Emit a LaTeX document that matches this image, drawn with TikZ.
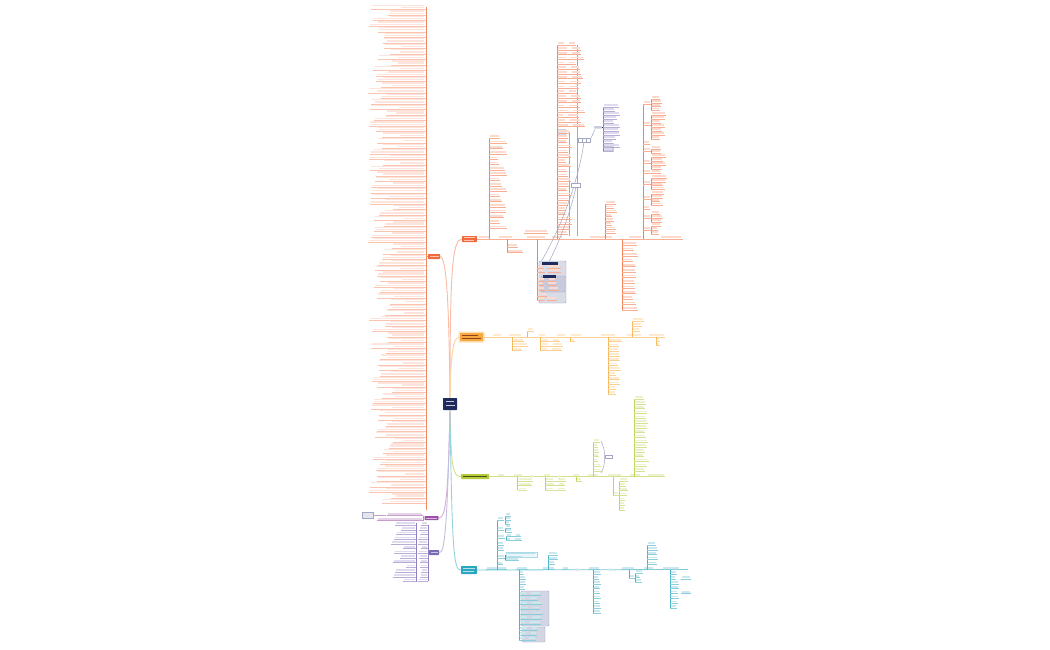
\documentclass[tikz,border=0pt]{standalone}
\usetikzlibrary{calc}
\definecolor{oA}{HTML}{F26B3A}
\definecolor{oB}{HTML}{F7A93E}
\definecolor{gC}{HTML}{B5CB3A}
\definecolor{tD}{HTML}{2AA6C1}
\definecolor{puA}{HTML}{9B4FA6}
\definecolor{puB}{HTML}{7D6AB6}
\definecolor{navy}{HTML}{1F2A5E}
\definecolor{gbox}{HTML}{C8CBDC}
\definecolor{gline}{HTML}{A3A7C4}
\tikzset{
 mainbox/.style={draw=none, inner sep=0pt, rectangle, rounded corners=0.6pt},
 conn/.style={line width=0.9pt},
}
% leaf, left aligned at x: x y w colour
\newcommand\lf[4]{%
  \fill[#4!25] ({#1+1},{#2-2.6}) rectangle ({#1+1+#3},{#2-1});
  \draw[#4!55,line width=0.35pt] (#1,#2) -- ({#1+#3+2},#2);
}
% leaf, right aligned at x
\newcommand\rf[4]{%
  \fill[#4!25] ({#1-1-#3},{#2-2.6}) rectangle ({#1-1},{#2-1});
  \draw[#4!55,line width=0.35pt] ({#1-#3-2},#2) -- (#1,#2);
}
% vertical list: x, first y, count, step, junction y, colour, max width
\newcommand\vt[7]{%
  \pgfmathsetmacro\vlast{#2+(#3-1)*#4}
  \draw[#6!85,line width=0.6pt] (#1,#5) -- (#1,#2) (#1,#5) -- (#1,\vlast);
  \foreach \i in {1,...,#3}{
    \pgfmathsetmacro\yy{#2+(\i-1)*#4}
    \pgfmathsetmacro\ww{#7*(0.45+0.55*rnd)}
    \lf{#1}{\yy}{\ww}{#6}
  }
}
% vertical list of pairs
\newcommand\vtp[7]{%
  \pgfmathsetmacro\vlast{#2+(#3-1)*#4}
  \draw[#6!85,line width=0.6pt] (#1,#5) -- (#1,#2) (#1,#5) -- (#1,\vlast);
  \foreach \i in {1,...,#3}{
    \pgfmathsetmacro\yy{#2+(\i-1)*#4}
    \pgfmathsetmacro\wa{#7*(0.5+0.5*rnd)}
    \pgfmathsetmacro\wb{#7*(0.6+0.6*rnd)}
    \pgfmathsetmacro\xb{#1+\wa+5}
    \lf{#1}{\yy}{\wa}{#6}
    \draw[#6!55,line width=0.35pt] ({#1+\wa+2},\yy) -- (\xb,\yy);
    \lf{\xb}{\yy}{\wb}{#6}
  }
}
\begin{document}
\begin{tikzpicture}[x=1pt,y=-1pt]
\useasboundingbox (0,0) rectangle (1050,650);
\fill[white] (0,0) rectangle (1050,650);
\pgfmathsetseed{7}

% ---------- main nodes ----------
\fill[oB!35,rounded corners=1pt] (458.5,331.5) rectangle (484.5,342.5);
\node[mainbox,fill=navy,minimum width=14pt,minimum height=12pt] (c) at (450,404) {};
\node[mainbox,fill=oA,minimum width=15pt,minimum height=6pt] (A) at (469.5,239) {};
\node[mainbox,fill=oB,minimum width=23pt,minimum height=8pt] (B) at (471.5,337) {};
\node[mainbox,fill=gC,minimum width=28pt,minimum height=5pt] (C) at (475,476.5) {};
\node[mainbox,fill=tD,minimum width=16pt,minimum height=8pt] (D) at (469,570) {};
\node[mainbox,fill=oA,minimum width=12pt,minimum height=5pt] (L) at (434,256.5) {};
\node[mainbox,fill=puA,minimum width=14pt,minimum height=4pt] (P1) at (431.5,518) {};
\node[mainbox,fill=puB,minimum width=10pt,minimum height=5pt] (P2) at (434,552.5) {};
% white text marks inside main nodes
\fill[white!75!navy] (446,400.5) rectangle (454,401.8);
\fill[white!75!navy] (445.5,404.5) rectangle (454.5,405.8);
\fill[white!60!oA] (464,237.2) rectangle (475,238);
\fill[white!60!oA] (464,239.8) rectangle (474,240.6);
\fill[oA!60!black] (462,334.5) rectangle (478,335.3);
\fill[oA!60!black] (462,337.5) rectangle (481,338.3);
\fill[gC!40!black] (463,476) rectangle (487,477);
\fill[white!65!tD] (463,567.5) rectangle (475,568.5);
\fill[white!65!tD] (463,570.5) rectangle (474,571.5);
\fill[white!60!oA] (429.5,256) rectangle (438.5,257);
\fill[white!60!puA] (426,517.5) rectangle (437,518.5);
\fill[white!60!puB] (430.5,552) rectangle (437.5,553);

% ---------- connectors from centre ----------
\draw[oA!45,conn] (c.north) .. controls (450,275) and (452,239) .. (A.west);
\draw[oA!45,conn] (c.north) .. controls (449,310) and (447,257) .. (L.east);
\draw[oB!50,conn] (c.north) .. controls (451,352) and (453,337) .. (B.west);
\draw[gC!60,conn] (c.south) .. controls (451,468) and (453,476.5) .. (C.west);
\draw[tD!50,conn] (c.south) .. controls (452,555) and (454,570) .. (D.west);
\draw[puA!45,conn] (c.south) .. controls (448,505) and (445,518) .. (P1.east);
\draw[puB!45,conn] (c.south) .. controls (447,540) and (444,552.5) .. (P2.east);

% ---------- left column ----------
\coordinate (Lc) at (426,256.5);
\draw[oA!80,line width=0.8pt] (L.west) -- (Lc);
\draw[oA!80,line width=1pt] (426,7) -- (426,510);
\foreach \i in {0,...,89}{
  \pgfmathsetmacro\yy{9.5+\i*5.55}
  \pgfmathsetmacro\wa{30+25*rnd}
  \pgfmathsetmacro\wb{18+37*rnd}
  \pgfmathsetmacro\wm{max(\wa,\wb)}
  \fill[oA!18] ({424-\wa},{\yy-4.7}) rectangle (424,{\yy-3.4});
  \fill[oA!18] ({424-\wb},{\yy-2.5}) rectangle (424,{\yy-1.2});
  \draw[oA!40,line width=0.3pt] ({423-\wm},\yy) -- (426,\yy);
}

% ---------- purple left branches ----------
\coordinate (P1a) at (423,518);
\draw[puA!70,line width=0.6pt] (P1.west) -- (P1a);
\draw[puA!70,line width=0.6pt] (423,515.5) -- (423,520.5);
\rf{423}{515.5}{34}{puA}
\draw[gline,fill=gbox!50] (362,512) rectangle (373,518);
\draw[puA!55,line width=0.35pt] (373,515.5) -- (386,515.5);
\rf{423}{520.5}{44}{puA}

\coordinate (P2a) at (428,552.5);
\draw[puB,line width=0.6pt] (P2.west) -- (P2a);
\draw[puB!85,line width=0.6pt] (428,525) -- (428,581);
\draw[puB!85,line width=0.6pt] (416,523) -- (416,582);
\foreach \i in {0,...,12}{
  \pgfmathsetmacro\yy{525+\i*4.7}
  \pgfmathsetmacro\wa{5+4*rnd}
  \pgfmathsetmacro\wb{6+18*rnd}
  \rf{428}{\yy}{\wa}{puB}
  \rf{416}{\yy}{\wb}{puB}
}

% ---------- branch A ----------
\draw[oA!55,line width=0.8pt] (A.east) -- (683,239);
\lf{478}{239}{10}{oA} \lf{498}{239}{13}{oA} \lf{526}{239}{18}{oA}
\lf{551}{239}{10}{oA} \lf{589}{239}{22}{oA} \lf{628}{239}{12}{oA} \lf{660}{239}{20}{oA}
\lf{524}{233}{22}{oA}
\vt{489}{138}{18}{5.3}{239}{oA}{16}
\vt{507}{247}{2}{5.5}{239}{oA}{15}
% long column
\draw[gline,line width=0.5pt] (577,45) -- (577,236);
\draw[gline,line width=0.5pt] (569,132) -- (569,236);
\vtp{557}{45}{18}{4.8}{239}{oA}{10}
\draw[gline,fill=gbox!60,rounded corners=0.5pt] (558,129.5) rectangle (566,134.5);
\vt{557}{133}{22}{4.8}{239}{oA}{14}
% grey relation curves
\draw[gline,line width=0.5pt] (541,262) .. controls (568,215) and (580,170) .. (584,142);
\draw[gline,line width=0.5pt] (549,262) .. controls (564,232) and (572,205) .. (576,187);
\draw[gline,line width=0.5pt] (590,140) .. controls (592,134) .. (595,129.5);
\draw[gline,fill=white] (578,138) rectangle (590,142.5);
\draw[gline] (582,138) -- (582,142.5) (586,138) -- (586,142.5);
\draw[gline,fill=white] (571,183) rectangle (580,187);
% purple/navy cluster
\node[mainbox,fill=gbox,minimum width=8pt,minimum height=2.5pt] (Pc) at (598,127.5) {};
\fill[gbox] (604,143) rectangle (614,152.5);
\draw[navy,line width=0.6pt] (Pc.east) -- (603,127.5);
\vt{603}{107}{12}{4}{127.5}{puB}{16}
% A4
\vt{605}{204}{8}{4.2}{239}{oA}{10}
% A5
\draw[oA!85,line width=0.6pt] (643,239) -- (643,104);
\lf{643}{104}{6}{oA} \vt{651}{99}{4}{3.8}{104}{oA}{14}
\lf{643}{125}{6}{oA} \vt{651}{115}{7}{4}{125}{oA}{14}
\lf{643}{144}{5}{oA}
\lf{643}{151}{6}{oA} \vt{651}{149}{2}{4}{151}{oA}{14}
\lf{643}{163}{6}{oA} \vt{651}{157}{4}{4}{163}{oA}{14}
\lf{643}{173}{6}{oA} \lf{651}{173}{8}{oA}
\lf{643}{184}{6}{oA} \vt{651}{178}{4}{3.8}{184}{oA}{14}
\lf{643}{199}{6}{oA} \vt{651}{194}{4}{3.8}{199}{oA}{12}
\lf{643}{209}{5}{oA}
\lf{643}{218}{6}{oA} \vt{651}{214}{3}{4}{218}{oA}{12}
\lf{643}{230}{6}{oA} \vt{651}{226}{3}{4}{230}{oA}{10}
% A6
\vt{622}{245}{13}{5.4}{239}{oA}{14}
% grey box under A
\draw[oA!85,line width=0.6pt] (537,239) -- (537,300);
\draw[gline,fill=gbox!70,rounded corners=1pt] (539,261) rectangle (566,303);
\fill[navy] (542,262) rectangle (558,265);
\draw[gline,fill=gbox,rounded corners=1pt] (541,276) rectangle (565,292);
\fill[navy] (543,275) rectangle (556,278);
\foreach \yy/\wa/\wb in {268/5/12,272/6/11,281/6/6,285/5/8,290/6/9}{
  \lf{537}{\yy}{\wa}{oA}
  \lf{\wa+542}{\yy}{\wb}{oA}
}
\lf{537}{296}{8}{oA}
\lf{537}{300}{6}{oA} \lf{547}{300}{8}{oA}

% ---------- branch B ----------
\draw[oB!55,line width=0.8pt] (B.east) -- (663,337);
\lf{492}{337}{8}{oB} \lf{508}{337}{12}{oB} \lf{538}{337}{6}{oB} \lf{556}{337}{8}{oB}
\lf{570}{337}{10}{oB} \lf{600}{337}{14}{oB} \lf{626}{337}{14}{oB} \lf{648}{337}{15}{oB}
\vt{512.5}{341.5}{3}{4.5}{337}{oB}{14}
\vt{527}{331}{1}{5}{337}{oB}{8}
\vtp{540.5}{341.5}{3}{4.5}{337}{oB}{9}
\vt{570}{341.5}{1}{4}{337}{oB}{4}
\vt{608}{341.5}{12}{4.75}{337}{oB}{12}
\vt{632}{321}{3}{5}{337}{oB}{12}
\vt{656}{341}{2}{4.5}{337}{oB}{4}

% ---------- branch C ----------
\draw[gC!60,line width=0.8pt] (C.east) -- (663,476.5);
\lf{497}{476.5}{6}{gC} \lf{513}{476.5}{8}{gC} \lf{543}{476.5}{6}{gC}
\lf{572}{476.5}{6}{gC} \lf{587}{476.5}{10}{gC} \lf{607}{476.5}{13}{gC}
\lf{629}{476.5}{10}{gC} \lf{647}{476.5}{16}{gC}
\fill[gC!30] (532,476.5) circle (1.5);
\fill[gC!30] (559,476.5) circle (1.5);
\vt{517.5}{481}{3}{4.6}{476.5}{gC}{14}
\vtp{545}{481}{3}{4.6}{476.5}{gC}{8}
\vt{576}{481}{1}{4}{476.5}{gC}{5}
\vt{593}{442}{7}{4.85}{476.5}{gC}{6}
\draw[gline,line width=0.5pt] (601,441) .. controls (606,450) and (606,465) .. (601,473);
\draw[gline,fill=white] (605,455) rectangle (612,458.5);
\draw[gC!85,line width=0.6pt] (613,476.5) -- (613,495);
\lf{613}{495}{4}{gC}
\vt{619}{481}{7}{4.8}{495}{gC}{8}
\vt{634}{399}{16}{4.8}{476.5}{gC}{16}

% ---------- branch D ----------
\draw[tD!60,line width=0.8pt] (D.east) -- (688,569.5);
\lf{486}{569.5}{19}{tD} \lf{516}{569.5}{10}{tD} \lf{542}{569.5}{11}{tD}
\lf{562}{569.5}{5}{tD} \lf{588}{569.5}{10}{tD} \lf{621}{569.5}{12}{tD}
\lf{643}{569.5}{9}{tD} \lf{662}{569.5}{16}{tD}
\fill[tD!25] (577,569.5) circle (1.5);
\fill[tD!25] (610,569.5) circle (1.5);
% D1
\draw[tD!85,line width=0.6pt] (497,569.5) -- (497,520);
\lf{497}{520}{5}{tD} \vt{505}{516}{3}{4}{520}{tD}{6}
\lf{497}{530}{5}{tD} \vt{505}{528}{2}{4}{530}{tD}{6}
\lf{497}{538}{6}{tD} \vtp{506}{536.5}{2}{4}{538}{tD}{6}
\lf{497}{545}{5}{tD}
\lf{497}{550}{5}{tD}
\lf{497}{558}{6}{tD}
\draw[tD,line width=0.5pt] (505,555) -- (505,560);
\draw[tD!40,fill=tD!10] (506,552) rectangle (537,557.5);
\fill[tD!35] (508,553.3) rectangle (535,554.3);
\fill[tD!35] (508,555.5) rectangle (522,556.5);
\lf{505}{560.5}{12}{tD}
\lf{497}{564.5}{4}{tD}
% D2
\draw[tD!85,line width=0.6pt] (519,569.5) -- (519,640);
\draw[gline,fill=gbox!80,rounded corners=1pt] (521,591) rectangle (549,626);
\draw[gline,fill=gbox!80,rounded corners=1pt] (522,627) rectangle (545,642);
\vt{519}{574}{4}{5}{569.5}{tD}{6}
\vtp{519}{595}{7}{4.8}{569.5}{tD}{9}
\vtp{519}{630}{3}{5}{569.5}{tD}{7}
% D3..D7
\vt{548}{555}{3}{4.5}{569.5}{tD}{8}
\vt{593}{574}{9}{4.85}{569.5}{tD}{8}
\draw[tD!85,line width=0.6pt] (629,569.5) -- (629,578);
\lf{629}{578}{4}{tD}
\vt{635}{573}{3}{4.5}{578}{tD}{6}
\vt{647}{545}{5}{4.8}{569.5}{tD}{10}
\vt{670}{574}{8}{4.85}{569.5}{tD}{8}
\lf{681}{579}{8}{tD} \lf{681}{593.5}{8}{tD}
\end{tikzpicture}
\end{document}
